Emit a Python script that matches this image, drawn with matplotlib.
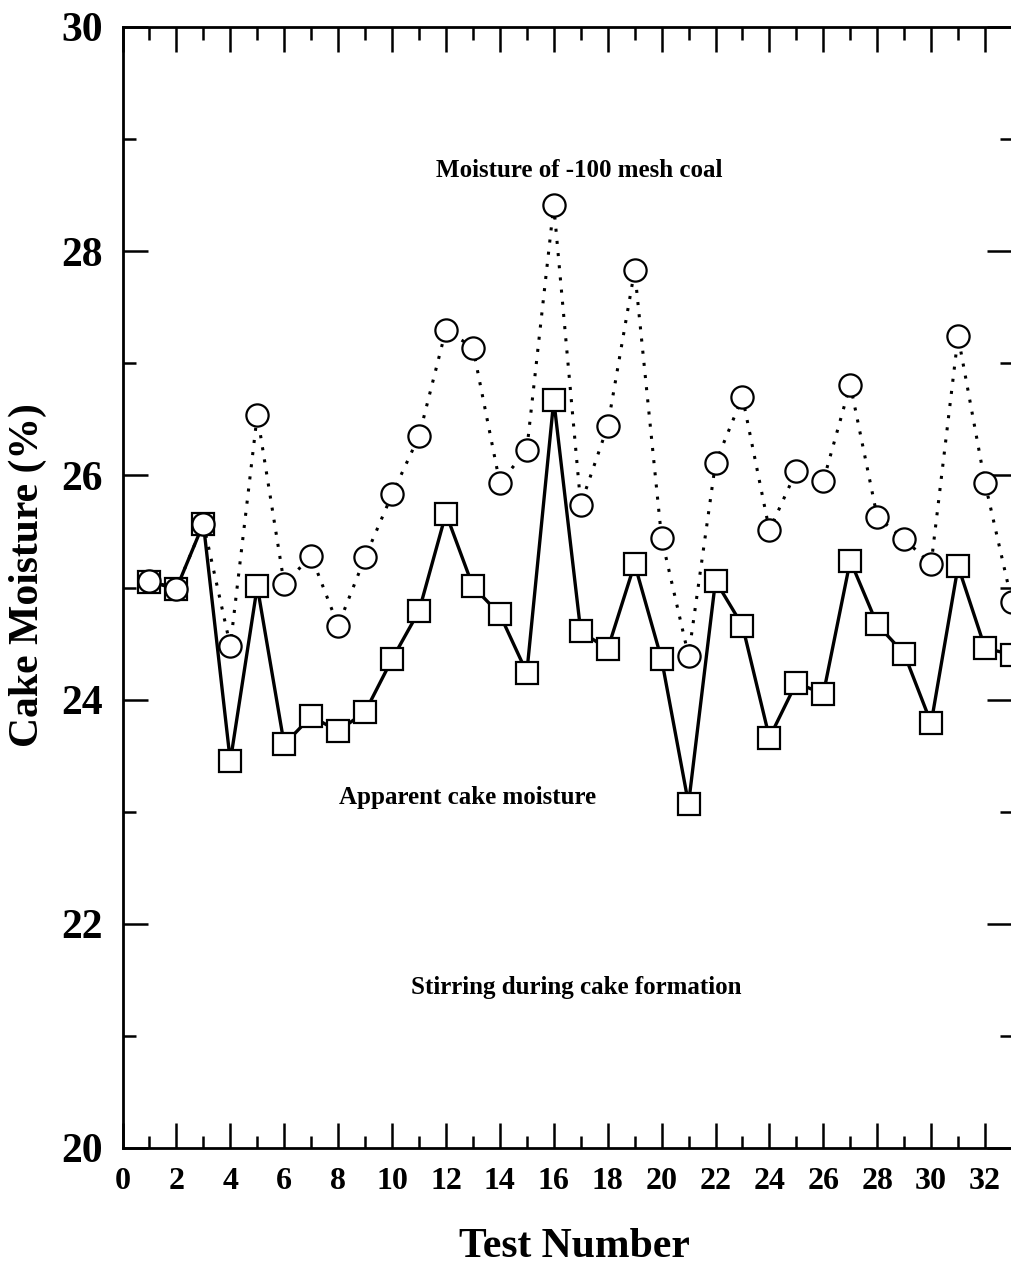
import matplotlib
matplotlib.use("Agg")
import matplotlib.pyplot as plt
from matplotlib.ticker import MultipleLocator

plt.rcParams['font.family'] = ['Liberation Serif', 'DejaVu Serif']
plt.rcParams['font.weight'] = 'bold'

# test numbers 1..33
tests = list(range(1, 34))

# moisture of -100 mesh coal (circles, dotted)
fine_coal = [25.06, 24.99, 25.57, 24.48, 26.54, 25.03, 25.28, 24.66, 25.27, 25.83,
             26.35, 27.30, 27.14, 25.93, 26.23, 28.41, 25.74, 26.44, 27.83, 25.44,
             24.39, 26.11, 26.70, 25.51, 26.04, 25.95, 26.81, 25.63, 25.43, 25.21,
             27.24, 25.93, 24.87]

# apparent cake moisture (squares, solid)
cake = [25.05, 24.99, 25.57, 23.45, 25.01, 23.60, 23.85, 23.72, 23.89, 24.36,
        24.79, 25.66, 25.01, 24.76, 24.24, 26.67, 24.61, 24.45, 25.21, 24.36,
        23.07, 25.06, 24.66, 23.66, 24.15, 24.05, 25.24, 24.67, 24.41, 23.79,
        25.19, 24.46, 24.40]

fig = plt.figure(figsize=(10.11, 12.8), dpi=100)
ax = fig.add_axes([122.5 / 1011, 1 - 1148 / 1280, 889.5 / 1011, 1121 / 1280])

ax.plot(tests, cake, color='black', lw=2.4, marker='s', ms=16,
        mfc='white', mec='black', mew=1.6, zorder=3)
ax.plot(tests, fine_coal, color='black', lw=2.2, linestyle=(0, (1, 3)),
        marker='o', ms=16, mfc='white', mec='black', mew=1.6, zorder=4)

ax.set_xlim(0, 33)
ax.set_ylim(20, 30)
ax.xaxis.set_major_locator(MultipleLocator(2))
ax.xaxis.set_minor_locator(MultipleLocator(1))
ax.yaxis.set_major_locator(MultipleLocator(2))
ax.yaxis.set_minor_locator(MultipleLocator(1))

ax.tick_params(which='both', direction='in', top=True, right=True, width=1.8)
ax.tick_params(which='major', length=18)
ax.tick_params(which='minor', length=9)
ax.tick_params(axis='x', which='major', labelsize=23, pad=14)
ax.tick_params(axis='y', which='major', labelsize=30, pad=14)
for lab in ax.get_xticklabels() + ax.get_yticklabels():
    lab.set_fontweight('bold')
for sp in ax.spines.values():
    sp.set_linewidth(2)

ax.text(16.94, 28.72, "Moisture of -100 mesh coal", ha='center', va='center',
        fontsize=18, fontweight='bold')
ax.text(12.8, 23.13, "Apparent cake moisture", ha='center', va='center',
        fontsize=18, fontweight='bold')
ax.text(16.83, 21.43, "Stirring during cake formation", ha='center', va='center',
        fontsize=18, fontweight='bold')

fig.text(574 / 1011, 1 - 1247 / 1280, "Test Number", ha='center', va='center',
         fontsize=30, fontweight='bold')
fig.text(28 / 1011, 1 - 575 / 1280, "Cake Moisture (%)", ha='center', va='center',
         rotation=90, fontsize=30, fontweight='bold')

fig.savefig("out.png", dpi=100)
